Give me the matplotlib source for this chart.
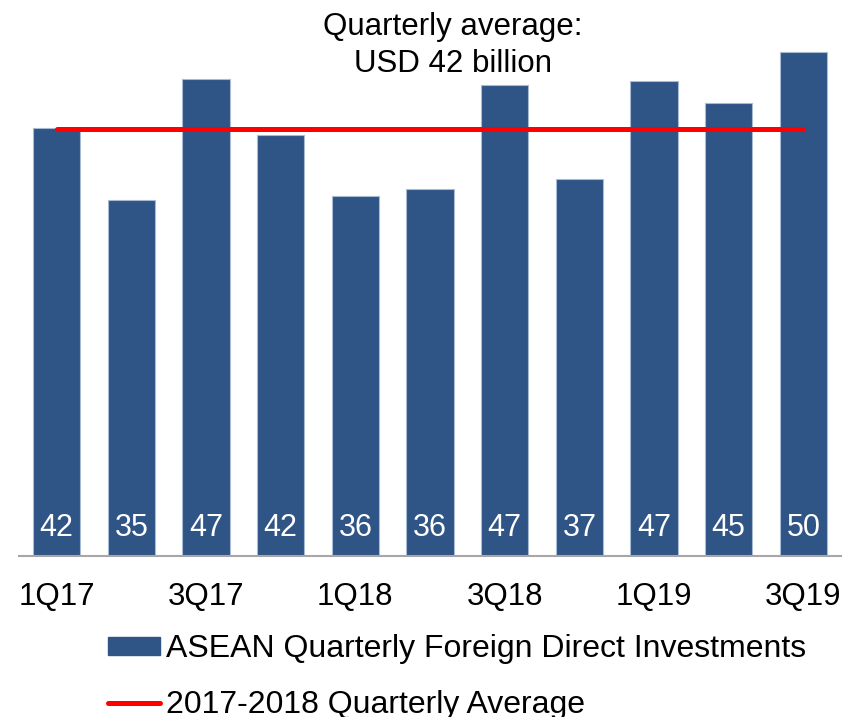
import matplotlib.pyplot as plt
from matplotlib.lines import Line2D
from matplotlib.patches import Patch

plt.rcParams['font.family'] = ['Liberation Sans', 'DejaVu Sans']

# quarterly FDI, USD billion
quarters = ["1Q17", "2Q17", "3Q17", "4Q17", "1Q18", "2Q18", "3Q18", "4Q18",
            "1Q19", "2Q19", "3Q19"]
fdi = [42.4, 35.3, 47.3, 41.7, 35.7, 36.4, 46.7, 37.4, 47.1, 44.9, 50.0]
avg_2017_2018 = 42.3
shown_ticks = ["1Q17", "3Q17", "1Q18", "3Q18", "1Q19", "3Q19"]

bar_col = "#2F5486"
line_col = "#FF0000"
fs = 22

fig = plt.figure(figsize=(8.56, 7.17), dpi=100)
ax = fig.add_axes([0.0226, 0.2245, 0.9595, 0.774])

x = list(range(len(quarters)))
ax.bar(x, fdi, width=0.63, color=bar_col, edgecolor="#A9BAD4", linewidth=0.8, zorder=2)
ax.plot([x[0], x[-1]], [avg_2017_2018, avg_2017_2018], color=line_col, lw=3.6,
        solid_capstyle="round", zorder=3)

for xi, v in zip(x, fdi):
    ax.text(xi, 2.8, f"{v:.0f}", color="white", ha="center", va="center", fontsize=fs)

ax.text(5.31, 50.6, "Quarterly average:\nUSD 42 billion", ha="center", va="center",
        fontsize=22.5, linespacing=1.3)

ax.set_xlim(-0.5, len(quarters) - 0.5)
ax.set_ylim(0, 55)
tick_pos = [quarters.index(q) for q in shown_ticks]
ax.set_xticks(tick_pos)
ax.set_xticklabels(shown_ticks, fontsize=22.5)
ax.tick_params(axis="x", length=0, pad=19)
ax.set_yticks([])
for s in ["top", "right", "left"]:
    ax.spines[s].set_visible(False)
ax.spines["bottom"].set_color("#A6A6A6")
ax.spines["bottom"].set_linewidth(1.5)

handles = [Patch(facecolor=bar_col, edgecolor=bar_col),
           Line2D([0], [0], color=line_col, lw=3.6, solid_capstyle="round")]
labels = ["ASEAN Quarterly Foreign Direct Investments", "2017-2018 Quarterly Average"]
fig.legend(handles, labels, loc="upper left", bbox_to_anchor=(108 / 856, 1 - 634 / 717),
           frameon=False, fontsize=23, borderpad=0, borderaxespad=0,
           handlelength=1.63, handleheight=0.5, handletextpad=0.2, labelspacing=0.82)

fig.savefig("out.png", dpi=100)
